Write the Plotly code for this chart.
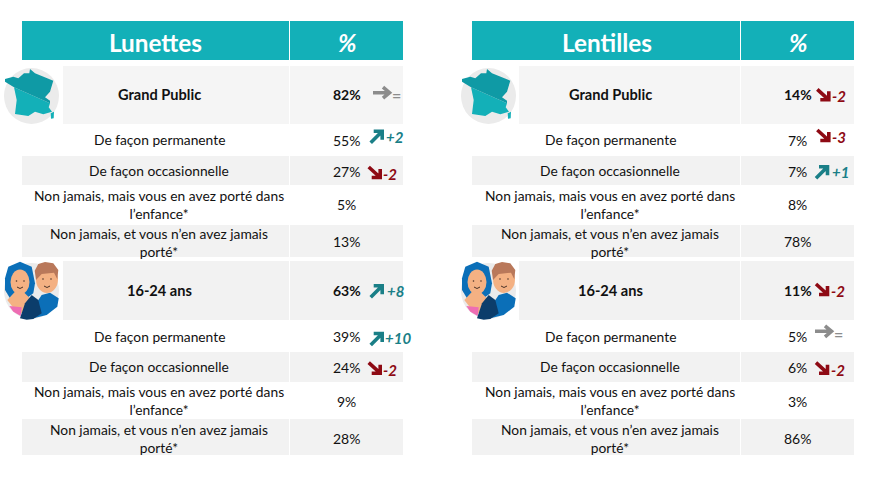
import plotly.graph_objects as go

# === Data ===
tables = ["Lunettes", "Lentilles"]
row_labels = [
    "Grand Public",
    "De façon permanente",
    "De façon occasionnelle",
    "Non jamais, mais vous en avez porté dans<br>l’enfance*",
    "Non jamais, et vous n’en avez jamais<br>porté*",
    "16-24 ans",
    "De façon permanente",
    "De façon occasionnelle",
    "Non jamais, mais vous en avez porté dans<br>l’enfance*",
    "Non jamais, et vous n’en avez jamais<br>porté*",
]
lunettes_pct = [82, 55, 27, 5, 13, 63, 39, 24, 9, 28]
lentilles_pct = [14, 7, 7, 8, 78, 11, 5, 6, 3, 86]
lunettes_trend = [0, 2, -2, None, None, 8, 10, -2, None, None]
lentilles_trend = [-2, -3, 1, None, None, -2, 0, -2, None, None]

# === Layout (pixels) ===
TEAL = "#13B0B8"
GREY = "#F2F2F2"
GREY_HEAD = "#F5F5F5"
FONT = "Lato"
UP = "#1A7F87"
DOWN = "#8E0A14"
FLAT = "#8C8C8C"

row_top = [66, 124, 156, 185, 225, 261, 320, 352, 382, 419]
row_bottom = [124, 156, 185, 225, 257, 320, 352, 382, 419, 455]
row_fill = [GREY_HEAD, None, GREY, None, GREY, GREY, None, GREY, None, GREY]
label_y = [94.3, 139.8, 170.8, 204, 242, 290.3, 336.4, 366.8, 400.7, 438]
pct_y = [94.3, 140.2, 171.2, 204.2, 241.2, 290.3, 336.7, 367.2, 401.2, 438.2]

# left edge, divider, right edge, head cell start, label centre, pct centre, title centre
geo = [
    dict(x0=22, div=289.5, x1=403, head=63, lab=159, pct=346.7, title=155.8, icon=0),
    dict(x0=472, div=740.5, x1=854, head=519, lab=610, pct=797.8, title=606.8, icon=457),
]
# arrow tails and label centres, row by row
arrow_x = [
    [373, 370.7, 368.7, None, None, 370.7, 370.7, 368.7, None, None],
    [817.3, 817.3, 816, None, None, 816, 815, 816, None, None],
]
arrow_y = [
    [92.7, 142.7, 167, None, None, 297.3, 345, 362.7, None, None],
    [89.3, 130, 178.3, None, None, 284, 331.3, 362.7, None, None],
]
delta_x = [
    [396.5, 395, 390, None, None, 395, 398.3, 390, None, None],
    [839.3, 839.3, 840.7, None, None, 838.3, 838, 838.3, None, None],
]
delta_y = [
    [94.5, 137.3, 174.3, None, None, 291, 338.3, 370, None, None],
    [96.3, 137.3, 172, None, None, 291, 333.5, 370, None, None],
]

shapes = []
annotations = []


def rect(x0, y0, x1, y1, fill):
    shapes.append(dict(type="rect", x0=x0, y0=y0, x1=x1, y1=y1, fillcolor=fill, line_width=0))


def path(points, fill, dx, dy):
    d = "M " + " L ".join(f"{x / 3 + dx:.1f},{y / 3 + dy:.1f}" for x, y in points) + " Z"
    shapes.append(dict(type="path", path=d, fillcolor=fill, line_width=0))


def blob(cx, cy, rx, ry, fill):
    shapes.append(dict(type="circle", x0=cx - rx, x1=cx + rx, y0=cy - ry, y1=cy + ry,
                       fillcolor=fill, line_width=0))


def text(x, y, s, size, color="#111111", bold=False, italic=False):
    annotations.append(dict(
        x=x, y=y, text=s, showarrow=False, xanchor="center", yanchor="middle",
        font=dict(family=FONT, size=size, color=color,
                  weight=700 if bold else 400, style="italic" if italic else "normal"),
    ))


def arrow(x, y, d):
    # tail at x,y, direction from the sign of the trend
    if d > 0:
        color, tx, ty, h = UP, x + 11.5, y - 11.5, [(-8.5, 0), (0, 8.5)]
    elif d < 0:
        color, tx, ty, h = DOWN, x + 11.5, y + 10.5, [(-8.5, 0), (0, -8.5)]
    else:
        color, tx, ty, h = FLAT, x + 16.5, y, [(-6.5, -5.5), (-6.5, 5.5)]
    p = (f"M {x},{y} L {tx},{ty} M {tx + h[0][0]},{ty + h[0][1]} L {tx},{ty} "
         f"L {tx + h[1][0]},{ty + h[1][1]}")
    shapes.append(dict(type="path", path=p, line=dict(color=color, width=3.6)))
    return color


def france_icon(dx):
    dy = 10
    blob(31.5 + dx, 96, 27.5, 28, "#EBEBEB")
    south = [(42, 232), (150, 280), (146, 292), (156, 305), (130, 313), (105, 305),
             (85, 318), (45, 312), (50, 270)]
    north = [(90, 177), (105, 190), (160, 212), (150, 245), (135, 262), (150, 272), (150, 280),
             (42, 232), (15, 215), (15, 207), (40, 200), (55, 205), (72, 190), (88, 190)]
    path(south, "#13B0B8", dx, dy)
    path(north, "#0F9AA5", dx, dy)
    path([(152, 310), (162, 305), (161, 325), (153, 326)], "#13B0B8", dx, dy)


def people_icon(dx):
    dy = 250
    blob(31.5 + dx, 291, 27.5, 28, "#EBEBEB")
    # man
    path([(105, 165), (125, 135), (150, 128), (176, 145), (172, 170), (140, 195), (100, 205)],
         "#0B6FB8", dx, dy)
    blob(47 + dx, 279.5, 11, 13.5, "#F4B183")
    path([(104, 62), (115, 42), (135, 36), (160, 40), (175, 60), (172, 88), (162, 68), (125, 72), (108, 90)],
         "#B9785A", dx, dy)
    # woman
    path([(15, 85), (25, 50), (60, 35), (95, 50), (105, 100), (100, 130), (80, 145), (30, 145), (15, 120)],
         "#0B6FB8", dx, dy)
    blob(20 + dx, 282, 9.5, 12.5, "#F4B183")
    path([(22, 150), (45, 125), (70, 125), (90, 145), (65, 190), (45, 180)], "#F4B183", dx, dy)
    path([(28, 168), (65, 172), (62, 198), (40, 185)], "#EE6DB3", dx, dy)
    path([(60, 205), (75, 160), (95, 135), (115, 150), (125, 190), (100, 207), (80, 209)],
         "#0C3D6B", dx, dy)
    # faces
    for cx, cy in [(16.5 + dx, 281), (24 + dx, 281), (43 + dx, 279), (51 + dx, 279)]:
        blob(cx, cy, 0.8, 0.8, "#4A3228")
    for x0, y0 in [(17 + dx, 287), (44 + dx, 286)]:
        shapes.append(dict(type="path", path=f"M {x0},{y0} Q {x0 + 3},{y0 + 3} {x0 + 6},{y0}",
                           line=dict(color="#4A3228", width=1)))


for t, (name, pct, trend) in enumerate(zip(tables, [lunettes_pct, lentilles_pct],
                                           [lunettes_trend, lentilles_trend])):
    g = geo[t]
    # header
    rect(g["x0"], 21, g["div"] - 0.5, 60, TEAL)
    rect(g["div"] + 0.5, 21, g["x1"], 60, TEAL)
    text(g["title"], 42, name, 24.3, "white", bold=True)
    text(g["pct"] + 1, 42, "%", 24.3, "white", bold=True, italic=True)

    for i, label in enumerate(row_labels):
        is_head = i in (0, 5)
        if row_fill[i]:
            rect(g["head"] if is_head else g["x0"], row_top[i], g["div"] - 0.5, row_bottom[i], row_fill[i])
            rect(g["div"] + 0.5, row_top[i], g["x1"], row_bottom[i], row_fill[i])
        text(g["lab"], label_y[i], label, 14.6 if is_head else 13.8, bold=is_head)
        text(g["pct"], pct_y[i], f"{pct[i]}%", 14, bold=is_head)

        d = trend[i]
        if d is None:
            continue
        color = arrow(arrow_x[t][i], arrow_y[t][i], d)
        lab = "=" if d == 0 else (f"+{d}" if d > 0 else str(d))
        text(delta_x[t][i], delta_y[t][i], lab, 16 if d == 0 else 15, color, bold=True, italic=d != 0)

    france_icon(g["icon"])
    people_icon(g["icon"])

fig = go.Figure()
fig.update_layout(
    width=874, height=478,
    margin=dict(l=0, r=0, t=0, b=0),
    paper_bgcolor="white", plot_bgcolor="white",
    showlegend=False,
    xaxis=dict(range=[0, 874], visible=False, fixedrange=True),
    yaxis=dict(range=[478, 0], visible=False, fixedrange=True),
    shapes=shapes,
    annotations=annotations,
)
fig.write_html("out.html", config={"displayModeBar": False},
               post_script="document.body.style.margin='0';")
